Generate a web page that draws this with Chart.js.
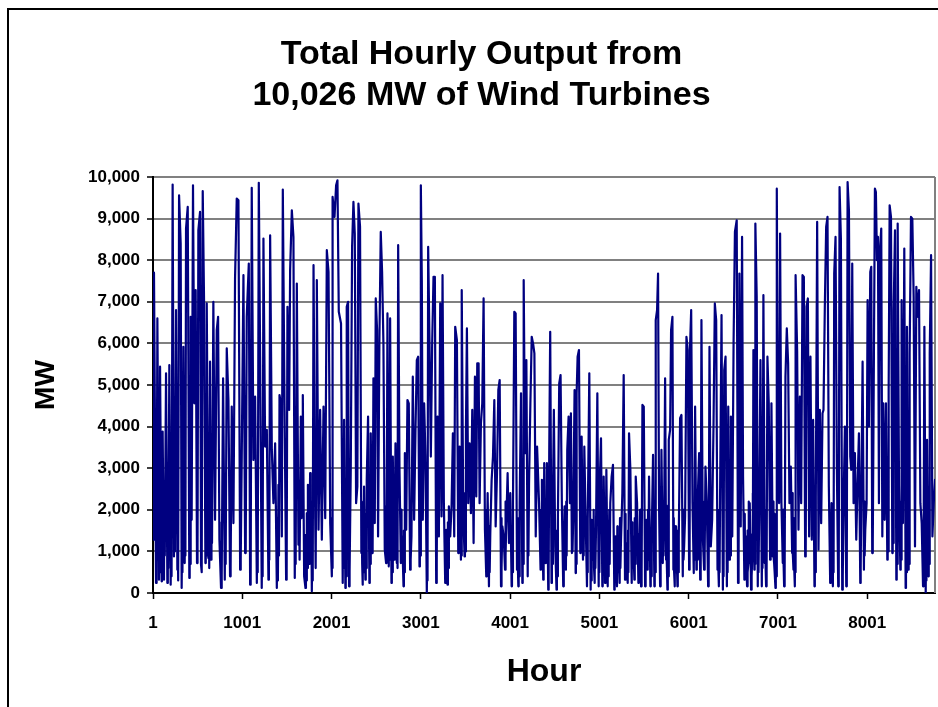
<!DOCTYPE html>
<html>
<head>
<meta charset="utf-8">
<script src="https://cdn.jsdelivr.net/npm/chart.js@4.4.1/dist/chart.umd.min.js"></script>
<style>
  html, body { margin: 0; padding: 0; background: #fff; }
  #wrap { position: relative; width: 938px; height: 707px; overflow: hidden; background: #fff; }
  #frame { position: absolute; left: 7px; top: 8px; width: 1000px; height: 1000px; border: 2px solid #000; box-sizing: border-box; }
  #c { position: absolute; left: 0; top: 0; }
</style>
</head>
<body>
<div id="wrap">
  <div id="frame"></div>
  <canvas id="c" width="938" height="707"></canvas>
</div>
<script>
// ---- Chart text ----
const chartTitleLines = ['Total Hourly Output from', '10,026 MW of Wind Turbines'];
const xAxisTitle = 'Hour';
const yAxisTitle = 'MW';

// ---- Tick labels ----
const xTickHours = [1, 1001, 2001, 3001, 4001, 5001, 6001, 7001, 8001];
const yTickValues = [0, 1000, 2000, 3000, 4000, 5000, 6000, 7000, 8000, 9000, 10000];

// ---- Series as (hour, MW) turning points ----
// Hours 1 - 2082
const hoursA = [
  1,12,35,39,44,50,68,72,76,80,
  98,101,105,109,124,128,133,147,162,167,
  172,184,199,204,209,221,236,241,246,259,
  274,279,283,293,311,322,327,331,341,356,
  360,364,371,390,408,412,416,423,434,449,
  464,479,494,498,502,509,528,539,544,549,
  558,573,588,592,596,603,621,626,631,640,
  651,656,662,677,696,715,730,745,763,768,
  773,786,805,810,815,827,846,864,868,873,
  883,902,920,939,958,977,981,986,995,1014,
  1033,1037,1042,1051,1074,1089,1093,1097,1107,1126,
  1145,1164,1169,1174,1186,1201,1219,1224,1229,1238,
  1257,1276,1294,1299,1304,1313,1332,1350,1369,1388,
  1394,1400,1406,1412,1418,1433,1444,1455,1474,1492,
  1496,1500,1507,1526,1537,1556,1574,1589,1594,1599,
  1612,1630,1636,1643,1657,1664,1671,1679,1694,1709,
  1714,1718,1724,1730,1736,1743,1749,1755,1761,1767,
  1773,1780,1785,1790,1799,1818,1823,1828,1836,1855,
  1873,1892,1911,1930,1948,1967,1986,2004,2007,2010,
  2015,2034,2052,2067,2082
];
const mwA = [
  1280,7700,240,1900,600,6600,320,1500,500,5440,
  280,1800,700,3880,320,2200,900,5280,240,2400,
  600,5480,200,1600,400,9820,880,2600,1000,6800,
  560,2000,300,9560,8400,120,1400,500,5920,720,
  2200,900,8760,9280,360,1800,700,6640,1760,9800,
  4560,7280,720,2400,1100,8720,9160,680,2000,500,
  9660,7000,720,2800,900,6960,840,2300,600,5560,
  800,2600,1200,7000,1760,6320,6640,1280,120,1700,
  400,5160,320,2100,700,5880,4640,400,1900,600,
  4480,1680,7560,9480,9440,560,2200,800,3280,7640,
  960,2400,1000,6640,7920,200,1500,300,9740,3200,
  4720,240,2000,500,9860,5680,120,1300,400,8520,
  3520,3920,320,2400,800,8600,3440,2160,3600,120,
  1800,300,2600,900,4760,4560,1360,9700,4560,320,
  1700,500,6880,4400,7760,9200,8560,360,2200,700,
  7440,1160,2700,800,4240,1800,3600,4760,400,120,
  1400,300,1920,600,2600,2040,700,1900,2880,900,
  2200,40,1400,300,7880,1800,600,2600,7520,1520,
  4400,1280,4480,1800,8240,7720,1680,400,1800,600,
  9520,9040,9800,9920,6760
];

// Hours 2107 - 4325
const hoursB = [
  2107,2126,2130,2135,2141,2156,2160,2164,2171,2186,
  2197,2201,2205,2216,2231,2246,2261,2276,2290,2302,
  2320,2335,2339,2344,2350,2354,2358,2365,2380,2384,
  2388,2395,2410,2425,2429,2433,2440,2455,2459,2463,
  2470,2485,2496,2511,2522,2537,2552,2567,2582,2597,
  2612,2616,2620,2627,2642,2646,2650,2657,2672,2676,
  2680,2687,2702,2706,2710,2717,2732,2736,2740,2747,
  2762,2777,2781,2785,2792,2807,2811,2815,2822,2837,
  2851,2866,2881,2885,2889,2896,2911,2926,2941,2956,
  2971,2986,2990,2994,3001,3012,3023,3038,3053,3068,
  3072,3076,3083,3098,3113,3128,3143,3158,3173,3177,
  3181,3188,3203,3218,3233,3244,3259,3274,3277,3280,
  3285,3300,3304,3308,3315,3330,3345,3360,3375,3386,
  3405,3420,3424,3428,3435,3450,3453,3457,3461,3476,
  3491,3495,3499,3506,3517,3532,3547,3562,3577,3592,
  3607,3622,3633,3648,3659,3674,3689,3704,3719,3734,
  3738,3742,3749,3764,3768,3772,3779,3794,3809,3824,
  3839,3854,3869,3884,3899,3903,3907,3914,3929,3944,
  3948,3952,3958,3973,3988,4003,4018,4022,4026,4033,
  4048,4063,4078,4082,4087,4093,4097,4101,4108,4123,
  4138,4142,4146,4153,4168,4183,4198,4202,4206,4213,
  4228,4243,4258,4273,4288,4303,4325
];
const mwB = [
  6480,240,1800,600,4160,120,1500,400,6880,7000,
  160,1400,500,2960,8320,9400,8640,2160,2560,9360,
  8800,960,2200,700,200,1600,500,2560,320,1900,
  600,2720,4240,240,1800,700,3840,960,2400,1100,
  5160,1680,7080,6320,1360,6080,8680,7720,6000,1040,
  720,2100,900,6720,640,2300,800,6600,240,1700,
  500,3280,800,2400,1100,3600,720,2200,600,8360,
  2960,720,2000,900,1360,160,1500,500,3360,1520,
  4640,4560,560,2000,800,1360,5200,1760,3920,5600,
  5680,640,2000,900,9800,7520,1760,4560,3280,0,
  1400,300,8320,6040,3280,6000,7600,7600,240,2000,
  700,4240,1360,6960,1840,7640,2160,240,1400,500,
  1520,200,1700,600,2080,1360,2080,3840,1360,6400,
  6080,960,2600,1200,3520,800,2200,900,7280,1920,
  880,2400,1000,3920,6360,2160,3600,1920,4400,1200,
  5200,2320,5520,5520,2160,4080,4560,7080,1520,400,
  2000,800,2400,160,1600,500,1440,2720,3280,4640,
  1600,2880,4880,5120,160,1800,600,1600,1360,560,
  2200,900,1680,2880,1200,2400,160,1500,500,2160,
  6760,6720,560,1800,700,160,1600,400,2160,4800,
  240,2000,700,7520,3360,5600,400,2200,900,2640,
  4560,6160,6000,5760,1360,3520,2160
];

// Hours 4342 - 6519
const hoursC = [
  4342,4346,4350,4357,4372,4375,4378,4383,4398,4402,
  4406,4413,4428,4431,4434,4439,4450,4465,4469,4473,
  4480,4491,4506,4521,4525,4529,4536,4551,4566,4581,
  4596,4600,4604,4611,4626,4630,4634,4641,4656,4671,
  4682,4693,4696,4700,4708,4723,4735,4738,4741,4746,
  4757,4772,4787,4791,4795,4802,4817,4821,4825,4832,
  4847,4862,4865,4868,4873,4888,4903,4907,4911,4918,
  4933,4937,4941,4948,4952,4956,4963,4978,4993,4997,
  5001,5008,5019,5034,5038,5042,5049,5064,5068,5072,
  5079,5094,5098,5102,5108,5112,5116,5123,5138,5153,
  5168,5172,5176,5183,5198,5202,5206,5213,5228,5232,
  5236,5243,5258,5273,5288,5292,5296,5303,5318,5322,
  5326,5333,5348,5363,5367,5371,5378,5393,5397,5401,
  5408,5423,5438,5442,5446,5453,5457,5461,5468,5472,
  5476,5483,5498,5513,5517,5521,5527,5542,5546,5550,
  5557,5572,5576,5580,5587,5602,5617,5621,5625,5632,
  5647,5658,5669,5681,5685,5689,5696,5711,5715,5719,
  5726,5737,5748,5752,5756,5763,5767,5771,5778,5793,
  5804,5819,5830,5834,5838,5845,5849,5853,5860,5875,
  5879,5883,5890,5905,5920,5935,5939,5943,5950,5961,
  5976,5991,6006,6010,6013,6017,6029,6044,6058,6062,
  6066,6073,6088,6092,6096,6103,6118,6130,6134,6137,
  6144,6159,6174,6178,6182,6189,6204,6219,6223,6227,
  6234,6249,6264,6279,6294,6309,6324,6328,6332,6339,
  6343,6347,6354,6369,6384,6388,6392,6399,6414,6429,
  6433,6437,6444,6459,6463,6467,6474,6489,6504,6519
];
const mwC = [
  560,2000,800,2720,320,1600,600,3120,720,2100,
  900,3120,80,1400,400,3360,6280,240,1900,700,
  2160,4400,1120,80,1500,400,1760,5040,5240,2080,
  160,1700,500,2080,560,2200,900,3440,4240,2160,
  4320,960,2400,1000,1840,4880,480,1800,700,4800,
  5680,5840,960,2500,1100,3760,800,2200,900,3520,
  1760,160,1400,500,1760,5280,80,1300,300,1760,
  800,2000,600,240,1500,600,1520,4800,160,1800,
  500,2880,3720,160,1600,500,2800,240,1500,500,
  2960,160,1400,400,880,2000,700,2160,2800,3080,
  80,1200,300,1360,160,1600,500,1280,240,1800,
  600,1280,2400,5240,320,1900,700,1200,240,1500,
  500,3840,2960,240,1700,600,1360,320,1800,700,
  2800,2160,240,1400,500,960,2000,600,160,1500,
  500,4520,4480,160,1700,500,1760,560,2000,800,
  2800,160,1400,400,1360,3320,160,1600,500,6560,
  6800,7680,2160,160,1800,700,3440,720,2000,900,
  1760,5160,800,2100,900,80,1500,400,3680,3920,
  6320,6640,560,1800,500,160,1600,500,1600,160,
  1500,500,1360,4200,4280,400,2000,800,1120,1840,
  6160,5840,560,2200,900,5960,6800,2160,480,2100,
  800,4480,560,2000,800,2320,3360,320,1700,600,
  6560,1360,560,2200,900,3040,2160,160,1500,500,
  5920,1120,1760,4000,6960,6560,560,2000,700,160,
  1400,500,2720,6680,80,1300,400,5360,5680,160,
  1700,500,4480,800,2200,900,4240,1360,6040,8680
];

// Hours 6539 - 8760
const hoursD = [
  6539,6554,6558,6562,6569,6584,6599,6610,6625,6629,
  6633,6640,6655,6659,6663,6670,6674,6678,6685,6700,
  6704,6708,6715,6718,6721,6726,6737,6740,6744,6748,
  6763,6775,6779,6783,6790,6805,6820,6824,6828,6838,
  6853,6857,6861,6868,6872,6876,6883,6898,6913,6917,
  6921,6928,6943,6947,6951,6958,6962,6966,6973,6977,
  6981,6988,7003,7014,7025,7040,7055,7059,7063,7070,
  7074,7078,7085,7100,7115,7130,7145,7160,7164,7168,
  7175,7179,7183,7190,7193,7196,7201,7216,7231,7246,
  7261,7276,7291,7306,7310,7314,7321,7336,7350,7365,
  7380,7395,7410,7414,7418,7425,7440,7455,7470,7485,
  7500,7511,7526,7541,7556,7571,7586,7590,7594,7601,
  7616,7620,7624,7631,7646,7661,7676,7680,7684,7691,
  7706,7721,7725,7729,7736,7751,7766,7770,7774,7781,
  7796,7811,7822,7833,7848,7863,7878,7893,7908,7923,
  7926,7929,7934,7949,7964,7968,7972,7979,7994,8005,
  8020,8035,8046,8057,8061,8065,8072,8087,8098,8110,
  8121,8132,8143,8158,8170,8181,8196,8211,8226,8230,
  8234,8241,8252,8267,8282,8286,8290,8297,8312,8327,
  8331,8335,8342,8357,8372,8376,8380,8386,8401,8416,
  8431,8435,8439,8446,8461,8465,8469,8476,8491,8506,
  8521,8536,8551,8566,8581,8596,8611,8626,8630,8634,
  8641,8656,8660,8664,8671,8686,8690,8694,8701,8716,
  8731,8746,8760
];
const mwD = [
  8960,240,1800,600,7680,1600,8560,2800,320,1900,
  700,1360,160,1500,500,720,2200,900,2160,80,
  1400,400,960,2400,1000,5840,560,2000,700,8880,
  7120,160,1600,500,1760,5600,160,1800,600,7160,
  720,2000,800,160,1500,500,5680,4560,800,2300,
  900,4560,880,2200,900,720,1900,500,120,1300,
  400,9720,2640,2160,8640,2160,720,2000,800,160,
  1500,500,5200,6360,5520,2160,3040,960,2400,1000,
  560,1800,600,160,1400,500,7640,5800,1520,4720,
  2160,7640,7600,880,2200,900,6880,7080,1360,5680,
  1280,4160,160,1600,500,2320,8920,1040,4400,1680,
  4320,4400,6880,8800,9040,2560,240,1800,600,2160,
  160,1500,500,7680,8560,2960,160,1600,500,9760,
  8520,80,1400,400,2160,4000,160,1700,500,9880,
  9200,3280,2960,7920,2160,3360,1280,2640,3840,240,
  1800,600,2160,5560,560,2200,900,1520,2160,7040,
  4000,7720,7840,960,2600,1200,4400,9720,9640,8000,
  8560,2160,8240,8760,1360,4560,1760,4560,800,2400,
  1000,4880,9320,9040,960,2600,1200,6800,8720,320,
  2000,700,8880,2560,560,2200,800,7040,1680,8280,
  120,1600,500,6400,560,2000,700,5760,9040,9000,
  7120,1120,7360,6640,7280,2160,1680,160,1500,500,
  6400,0,1400,300,3680,400,1900,700,5760,8120,
  1360,2160,2720
];

[[hoursA, mwA, 'A'], [hoursB, mwB, 'B'], [hoursC, mwC, 'C'], [hoursD, mwD, 'D']].forEach(([h, v, n]) => {
  if (h.length !== v.length) throw new Error('segment ' + n + ': ' + h.length + ' hours vs ' + v.length + ' values');
  for (let i = 1; i < h.length; i++) if (h[i] <= h[i - 1]) throw new Error('segment ' + n + ' hours not increasing at ' + h[i]);
});

const hours = hoursA.concat(hoursB, hoursC, hoursD);
const outputMW = mwA.concat(mwB, mwC, mwD);

const FONT = '"Liberation Sans", Arial, Helvetica, sans-serif';
const points = hours.map((h, i) => ({ x: h, y: outputMW[i] }));

const plotFrame = {
  id: 'plotFrame',
  beforeDatasetsDraw(chart) {
    const a = chart.chartArea, ctx = chart.ctx;
    ctx.save();
    ctx.strokeStyle = '#808080';
    ctx.lineWidth = 2;
    ctx.beginPath();
    ctx.moveTo(a.right, a.top);
    ctx.lineTo(a.right, a.bottom);
    ctx.stroke();
    ctx.restore();
  }
};

new Chart(document.getElementById('c'), {
  type: 'line',
  data: {
    datasets: [{
      label: 'Total hourly output (MW)',
      data: points,
      borderColor: '#000080',
      borderWidth: 2.2,
      borderJoinStyle: 'round',
      borderCapStyle: 'round',
      pointRadius: 0,
      tension: 0,
      fill: false
    }]
  },
  plugins: [plotFrame],
  options: {
    responsive: false,
    animation: false,
    devicePixelRatio: 1,
    normalized: true,
    layout: { padding: { left: 28, right: 3, top: 14, bottom: 0 } },
    plugins: {
      legend: { display: false },
      tooltip: { enabled: false },
      title: {
        display: true,
        text: chartTitleLines,
        color: '#000',
        font: { family: FONT, size: 34, weight: 'bold', lineHeight: 41 / 34 },
        padding: { top: 20, bottom: 61 }
      }
    },
    scales: {
      x: {
        type: 'linear',
        min: 1,
        max: 8760,
        afterBuildTicks: s => { s.ticks = xTickHours.map(v => ({ value: v })); },
        afterFit: s => { s.height = 114; },
        ticks: {
          autoSkip: false, maxRotation: 0, minRotation: 0,
          color: '#000', padding: 14,
          font: { family: FONT, size: 17, weight: 'bold' },
          callback: v => String(v)
        },
        grid: { drawOnChartArea: false, drawTicks: true, tickLength: 6, tickColor: '#000', tickWidth: 1.5 },
        border: { display: true, color: '#000', width: 2 },
        title: {
          display: true, text: xAxisTitle, color: '#000',
          font: { family: FONT, size: 32, weight: 'bold' },
          padding: { top: 0, bottom: 16 }
        }
      },
      y: {
        min: 0,
        max: 10000,
        afterBuildTicks: s => { s.ticks = yTickValues.map(v => ({ value: v })); },
        afterFit: s => { s.width = 125; },
        ticks: {
          color: '#000', padding: 7,
          font: { family: FONT, size: 17, weight: 'bold' },
          callback: v => Number(v).toLocaleString('en-US')
        },
        grid: {
          color: ctx => (ctx.tick && ctx.tick.value === 0 ? '#000' : '#808080'),
          lineWidth: 2, drawTicks: true, tickLength: 6, tickColor: '#000', tickWidth: 1.5
        },
        border: { display: true, color: '#000', width: 2 },
        title: {
          display: true, text: yAxisTitle, color: '#000',
          font: { family: FONT, size: 28, weight: 'bold' },
          padding: { top: 1, bottom: 0 }
        }
      }
    }
  }
});
</script>
</body>
</html>
